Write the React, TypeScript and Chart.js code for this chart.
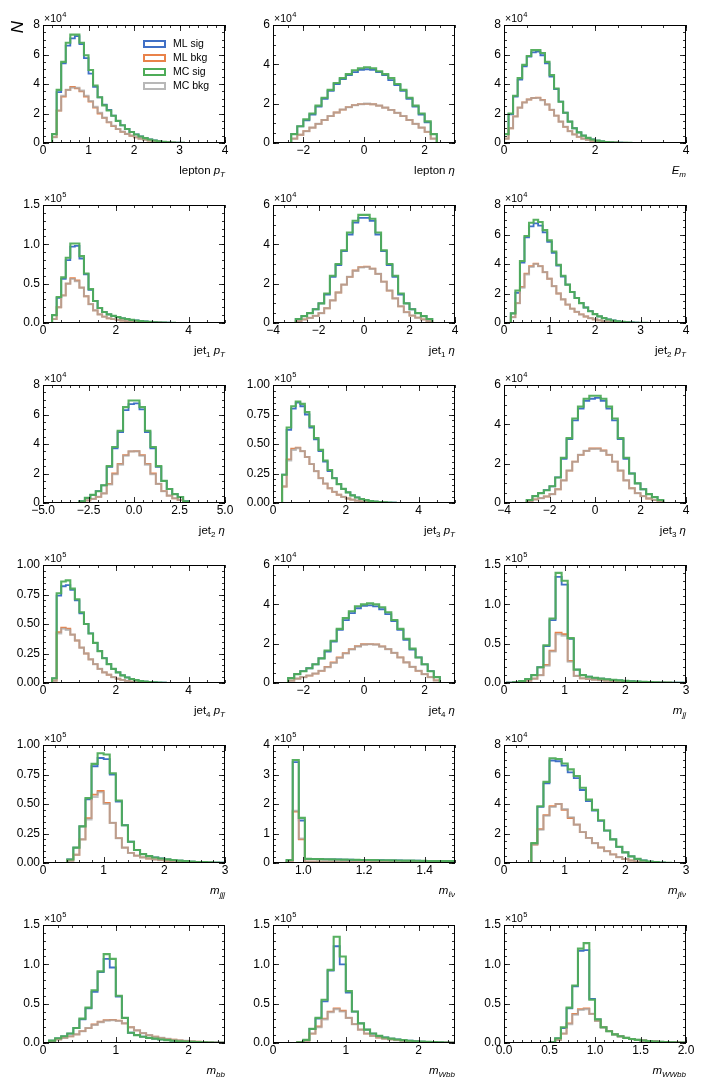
import { useEffect, useRef } from 'react'
import { Chart, registerables } from 'chart.js'

Chart.register(...registerables)

// series styling: ML sig, ML bkg, MC sig, MC bkg
const SERIES_NAMES = ['ML sig', 'ML bkg', 'MC sig', 'MC bkg']
const SERIES_COLORS = ['#4070c6', '#e9824a', 'rgba(78, 172, 88, 0.95)', 'rgba(168, 168, 168, 0.7)']
const LEGEND_COLORS = ['#4070c6', '#e9824a', '#4eac58', '#b8b8b8']
const SERIES_WIDTHS = [1.8, 1.8, 2.1, 2.1]
const SERIES_ORDER = [3, 2, 0, 1]

// ---- histogram contents (in units of the panel's 10^n exponent) ----

// lepton pT, bins of 0.1 from 0.2
const lepPtMlSig = [0.6, 3.45, 5.4, 6.6, 7.1, 7.25, 6.7, 5.75, 4.7, 3.8, 3.1, 2.6, 2.25, 1.85, 1.5, 1.2, 0.95, 0.75, 0.58, 0.44, 0.33, 0.24, 0.17, 0.12, 0.08, 0.05, 0.03, 0.02, 0.01]
const lepPtMlBkg = [0.4, 2.2, 3.15, 3.6, 3.8, 3.7, 3.5, 3.15, 2.8, 2.4, 2.0, 1.7, 1.4, 1.15, 0.94, 0.76, 0.61, 0.49, 0.38, 0.3, 0.23, 0.17, 0.12, 0.09, 0.06, 0.04, 0.025, 0.015, 0.008]
const lepPtMcSig = [0.6, 3.6, 5.5, 6.8, 7.35, 7.35, 6.8, 5.95, 4.95, 3.9, 3.1, 2.55, 2.2, 1.85, 1.5, 1.2, 0.95, 0.75, 0.58, 0.44, 0.33, 0.24, 0.17, 0.12, 0.08, 0.05, 0.03, 0.02, 0.01]
const lepPtMcBkg = [0.4, 2.2, 3.2, 3.6, 3.75, 3.75, 3.55, 3.2, 2.85, 2.45, 2.05, 1.72, 1.42, 1.17, 0.95, 0.77, 0.62, 0.5, 0.39, 0.3, 0.23, 0.17, 0.12, 0.09, 0.06, 0.04, 0.025, 0.015, 0.008]

// lepton eta, bins of 0.2 from -2.4
const lepEtaMlSig = [0.45, 0.85, 1.15, 1.45, 1.85, 2.25, 2.65, 3.0, 3.25, 3.45, 3.6, 3.72, 3.75, 3.72, 3.6, 3.45, 3.2, 2.95, 2.65, 2.25, 1.85, 1.45, 1.05, 0.45]
const lepEtaMlBkg = [0.22, 0.42, 0.6, 0.78, 0.97, 1.17, 1.37, 1.55, 1.7, 1.82, 1.93, 1.98, 1.99, 1.97, 1.9, 1.8, 1.68, 1.53, 1.37, 1.17, 0.97, 0.78, 0.57, 0.22]
const lepEtaMcSig = [0.45, 0.85, 1.2, 1.5, 1.9, 2.3, 2.7, 3.05, 3.3, 3.5, 3.7, 3.8, 3.85, 3.8, 3.65, 3.5, 3.3, 3.0, 2.7, 2.3, 1.9, 1.5, 1.1, 0.45]
const lepEtaMcBkg = [0.22, 0.42, 0.6, 0.78, 0.97, 1.17, 1.37, 1.55, 1.7, 1.82, 1.92, 1.97, 2.0, 1.97, 1.9, 1.8, 1.68, 1.53, 1.37, 1.17, 0.97, 0.78, 0.57, 0.22]

// E_m, bins of 0.1 from 0
const emMlSig = [0.6, 1.95, 3.15, 4.3, 5.2, 5.85, 6.15, 6.2, 5.95, 5.4, 4.5, 3.65, 2.8, 2.05, 1.45, 1.0, 0.72, 0.5, 0.35, 0.24, 0.16, 0.11, 0.07, 0.045, 0.03, 0.018, 0.01, 0.006]
const emMlBkg = [0.3, 1.0, 1.8, 2.4, 2.75, 2.95, 3.05, 3.08, 2.92, 2.62, 2.25, 1.85, 1.45, 1.1, 0.8, 0.58, 0.42, 0.3, 0.21, 0.15, 0.1, 0.07, 0.045, 0.03, 0.02, 0.012, 0.007, 0.004]
const emMcSig = [0.6, 2.0, 3.2, 4.4, 5.3, 5.9, 6.3, 6.3, 6.1, 5.5, 4.6, 3.7, 2.8, 2.05, 1.45, 1.0, 0.72, 0.5, 0.35, 0.24, 0.16, 0.11, 0.07, 0.045, 0.03, 0.018, 0.01, 0.006]
const emMcBkg = [0.3, 1.0, 1.8, 2.4, 2.75, 2.95, 3.05, 3.05, 2.9, 2.6, 2.25, 1.85, 1.45, 1.1, 0.8, 0.58, 0.42, 0.3, 0.21, 0.15, 0.1, 0.07, 0.045, 0.03, 0.02, 0.012, 0.007, 0.004]

// jet1 pT, bins of 0.125 from 0.25
const j1PtMlSig = [0.1, 0.32, 0.56, 0.8, 0.97, 0.98, 0.82, 0.62, 0.42, 0.28, 0.19, 0.14, 0.11, 0.09, 0.075, 0.06, 0.05, 0.04, 0.032, 0.025, 0.019, 0.014, 0.01, 0.007, 0.005, 0.003, 0.002]
const j1PtMlBkg = [0.05, 0.2, 0.35, 0.5, 0.57, 0.54, 0.45, 0.34, 0.24, 0.16, 0.11, 0.08, 0.06, 0.05, 0.04, 0.032, 0.025, 0.02, 0.015, 0.011, 0.008, 0.006, 0.004, 0.003, 0.002]
const j1PtMcSig = [0.1, 0.33, 0.58, 0.83, 1.01, 1.01, 0.85, 0.63, 0.43, 0.28, 0.19, 0.14, 0.11, 0.09, 0.075, 0.06, 0.05, 0.04, 0.032, 0.025, 0.019, 0.014, 0.01, 0.007, 0.005, 0.003, 0.002]
const j1PtMcBkg = [0.05, 0.2, 0.35, 0.5, 0.56, 0.53, 0.45, 0.34, 0.24, 0.16, 0.11, 0.08, 0.06, 0.05, 0.04, 0.032, 0.025, 0.02, 0.015, 0.011, 0.008, 0.006, 0.004, 0.003, 0.002]

// jet1 eta, bins of 0.25 from -3
const j1EtaMlSig = [0.2, 0.35, 0.5, 0.7, 1.0, 1.45, 2.35, 2.95, 3.65, 4.5, 5.1, 5.35, 5.35, 5.2, 4.5, 3.65, 2.95, 2.35, 1.45, 1.0, 0.7, 0.5, 0.35, 0.2]
const j1EtaMlBkg = [0.1, 0.18, 0.26, 0.36, 0.5, 0.75, 1.15, 1.55, 1.95, 2.35, 2.67, 2.84, 2.87, 2.76, 2.5, 2.1, 1.65, 1.25, 0.85, 0.55, 0.38, 0.27, 0.18, 0.1]
const j1EtaMcSig = [0.2, 0.35, 0.5, 0.7, 1.0, 1.5, 2.4, 3.0, 3.7, 4.6, 5.2, 5.5, 5.5, 5.3, 4.6, 3.7, 3.0, 2.4, 1.5, 1.0, 0.7, 0.5, 0.35, 0.2]
const j1EtaMcBkg = [0.1, 0.18, 0.26, 0.36, 0.5, 0.75, 1.15, 1.55, 1.95, 2.35, 2.65, 2.82, 2.85, 2.75, 2.5, 2.1, 1.65, 1.25, 0.85, 0.55, 0.38, 0.27, 0.18, 0.1]

// jet2 pT, bins of 0.1 from 0.15
const j2PtMlSig = [0.65, 2.05, 4.1, 5.8, 6.55, 6.75, 6.6, 6.15, 5.5, 4.75, 3.9, 3.15, 2.6, 2.1, 1.7, 1.35, 1.05, 0.8, 0.6, 0.45, 0.33, 0.24, 0.17, 0.12, 0.08, 0.05, 0.035, 0.02, 0.012, 0.006]
const j2PtMlBkg = [0.4, 1.35, 2.45, 3.35, 3.85, 4.02, 3.85, 3.45, 3.0, 2.5, 2.0, 1.6, 1.25, 0.97, 0.76, 0.58, 0.44, 0.33, 0.25, 0.18, 0.13, 0.09, 0.065, 0.045, 0.03, 0.02, 0.013, 0.008, 0.005]
const j2PtMcSig = [0.65, 2.2, 4.2, 5.9, 6.8, 7.0, 6.85, 6.3, 5.6, 4.85, 3.95, 3.2, 2.6, 2.1, 1.7, 1.35, 1.05, 0.8, 0.6, 0.45, 0.33, 0.24, 0.17, 0.12, 0.08, 0.05, 0.035, 0.02, 0.012, 0.006]
const j2PtMcBkg = [0.4, 1.35, 2.4, 3.3, 3.8, 4.0, 3.85, 3.45, 3.0, 2.5, 2.0, 1.6, 1.25, 0.97, 0.76, 0.58, 0.44, 0.33, 0.25, 0.18, 0.13, 0.09, 0.065, 0.045, 0.03, 0.02, 0.013, 0.008, 0.005]

// jet2 eta, bins of 0.3 from -3
const j2EtaMlSig = [0.12, 0.35, 0.55, 0.8, 1.2, 2.45, 3.7, 4.8, 6.3, 6.7, 6.75, 6.35, 4.8, 3.7, 2.45, 1.5, 0.95, 0.6, 0.4, 0.12]
const j2EtaMlBkg = [0.06, 0.18, 0.28, 0.42, 0.65, 1.3, 2.0, 2.65, 3.25, 3.5, 3.52, 3.25, 2.65, 2.0, 1.3, 0.8, 0.5, 0.32, 0.2, 0.06]
const j2EtaMcSig = [0.12, 0.35, 0.55, 0.8, 1.2, 2.5, 3.8, 4.9, 6.5, 6.95, 6.95, 6.5, 4.9, 3.8, 2.5, 1.5, 0.95, 0.6, 0.4, 0.12]
const j2EtaMcBkg = [0.06, 0.18, 0.28, 0.42, 0.65, 1.25, 1.95, 2.6, 3.2, 3.5, 3.5, 3.2, 2.6, 1.95, 1.3, 0.8, 0.5, 0.32, 0.2, 0.06]

// jet3 pT, bins of 0.125 from 0.25
const j3PtMlSig = [0.24, 0.62, 0.8, 0.85, 0.82, 0.75, 0.64, 0.54, 0.44, 0.35, 0.27, 0.21, 0.16, 0.12, 0.09, 0.065, 0.047, 0.034, 0.024, 0.017, 0.012, 0.008, 0.005, 0.003, 0.002]
const j3PtMlBkg = [0.14, 0.37, 0.46, 0.47, 0.44, 0.39, 0.33, 0.27, 0.21, 0.165, 0.125, 0.095, 0.07, 0.052, 0.038, 0.028, 0.02, 0.014, 0.01, 0.007, 0.005, 0.003, 0.002]
const j3PtMcSig = [0.24, 0.64, 0.82, 0.86, 0.84, 0.77, 0.65, 0.55, 0.45, 0.36, 0.28, 0.21, 0.16, 0.12, 0.09, 0.065, 0.047, 0.034, 0.024, 0.017, 0.012, 0.008, 0.005, 0.003, 0.002]
const j3PtMcBkg = [0.14, 0.36, 0.45, 0.465, 0.44, 0.39, 0.33, 0.27, 0.21, 0.165, 0.125, 0.095, 0.07, 0.052, 0.038, 0.028, 0.02, 0.014, 0.01, 0.007, 0.005, 0.003, 0.002]

// jet3 eta, bins of 0.25 from -3
const j3EtaMlSig = [0.15, 0.35, 0.5, 0.65, 0.85, 1.3, 2.25, 3.25, 4.2, 4.8, 5.2, 5.3, 5.35, 5.2, 4.8, 4.2, 3.25, 2.25, 1.5, 1.0, 0.7, 0.45, 0.3, 0.15]
const j3EtaMlBkg = [0.08, 0.18, 0.25, 0.33, 0.45, 0.7, 1.15, 1.65, 2.1, 2.45, 2.65, 2.77, 2.78, 2.67, 2.45, 2.1, 1.65, 1.15, 0.75, 0.5, 0.35, 0.23, 0.15, 0.08]
const j3EtaMcSig = [0.15, 0.35, 0.5, 0.65, 0.85, 1.3, 2.3, 3.3, 4.3, 4.9, 5.3, 5.45, 5.45, 5.3, 4.9, 4.3, 3.3, 2.3, 1.5, 1.0, 0.7, 0.45, 0.3, 0.15]
const j3EtaMcBkg = [0.08, 0.18, 0.25, 0.33, 0.45, 0.7, 1.15, 1.65, 2.1, 2.45, 2.65, 2.75, 2.75, 2.65, 2.45, 2.1, 1.65, 1.15, 0.75, 0.5, 0.35, 0.23, 0.15, 0.08]

// jet4 pT, bins of 0.125 from 0.25
const j4PtMlSig = [0.04, 0.74, 0.82, 0.83, 0.79, 0.7, 0.59, 0.5, 0.42, 0.34, 0.27, 0.21, 0.16, 0.12, 0.09, 0.065, 0.047, 0.034, 0.024, 0.017, 0.012, 0.008, 0.005, 0.003, 0.002]
const j4PtMlBkg = [0.02, 0.43, 0.47, 0.46, 0.41, 0.36, 0.3, 0.25, 0.2, 0.16, 0.12, 0.09, 0.07, 0.05, 0.036, 0.026, 0.018, 0.012, 0.008, 0.005, 0.003, 0.002]
const j4PtMcSig = [0.04, 0.76, 0.86, 0.87, 0.8, 0.71, 0.6, 0.5, 0.42, 0.34, 0.27, 0.21, 0.16, 0.12, 0.09, 0.065, 0.047, 0.034, 0.024, 0.017, 0.012, 0.008, 0.005, 0.003, 0.002]
const j4PtMcBkg = [0.02, 0.42, 0.46, 0.45, 0.41, 0.36, 0.3, 0.25, 0.2, 0.16, 0.12, 0.09, 0.07, 0.05, 0.036, 0.026, 0.018, 0.012, 0.008, 0.005, 0.003, 0.002]

// jet4 eta, bins of 0.2 from -2.5
const j4EtaMlSig = [0.25, 0.45, 0.6, 0.75, 0.95, 1.25, 1.6, 2.1, 2.7, 3.2, 3.55, 3.8, 3.92, 3.95, 3.9, 3.75, 3.5, 3.15, 2.7, 2.2, 1.7, 1.3, 0.95, 0.6, 0.3]
const j4EtaMlBkg = [0.12, 0.22, 0.3, 0.38, 0.48, 0.62, 0.82, 1.05, 1.3, 1.52, 1.72, 1.87, 1.97, 1.98, 1.96, 1.86, 1.72, 1.53, 1.3, 1.05, 0.82, 0.62, 0.45, 0.3, 0.13]
const j4EtaMcSig = [0.25, 0.45, 0.6, 0.75, 0.95, 1.25, 1.65, 2.15, 2.75, 3.3, 3.65, 3.9, 4.0, 4.05, 4.0, 3.85, 3.6, 3.2, 2.75, 2.25, 1.75, 1.3, 0.95, 0.6, 0.3]
const j4EtaMcBkg = [0.12, 0.22, 0.3, 0.38, 0.48, 0.62, 0.8, 1.02, 1.27, 1.5, 1.7, 1.85, 1.95, 1.97, 1.95, 1.85, 1.72, 1.53, 1.3, 1.05, 0.82, 0.62, 0.45, 0.3, 0.13]

// m_jj, bins of 0.1 from 0.05
const mjjMlSig = [0.003, 0.01, 0.025, 0.05, 0.1, 0.2, 0.47, 0.8, 1.35, 1.25, 0.56, 0.17, 0.1, 0.08, 0.066, 0.056, 0.047, 0.04, 0.033, 0.027, 0.022, 0.018, 0.014, 0.011, 0.009, 0.007, 0.005, 0.004, 0.003, 0.002]
const mjjMlBkg = [0.002, 0.006, 0.015, 0.03, 0.055, 0.1, 0.23, 0.41, 0.64, 0.62, 0.28, 0.09, 0.06, 0.05, 0.042, 0.036, 0.03, 0.025, 0.021, 0.017, 0.014, 0.011, 0.009, 0.007, 0.005, 0.004, 0.003, 0.002]
const mjjMcSig = [0.003, 0.01, 0.025, 0.05, 0.1, 0.2, 0.48, 0.82, 1.4, 1.3, 0.57, 0.17, 0.1, 0.08, 0.066, 0.056, 0.047, 0.04, 0.033, 0.027, 0.022, 0.018, 0.014, 0.011, 0.009, 0.007, 0.005, 0.004, 0.003, 0.002]
const mjjMcBkg = [0.002, 0.006, 0.015, 0.03, 0.055, 0.1, 0.22, 0.4, 0.62, 0.6, 0.27, 0.09, 0.06, 0.05, 0.042, 0.036, 0.03, 0.025, 0.021, 0.017, 0.014, 0.011, 0.009, 0.007, 0.005, 0.004, 0.003, 0.002]

// m_jjj, bins of 0.1 from 0.4
const mjjjMlSig = [0.03, 0.13, 0.31, 0.54, 0.82, 0.89, 0.88, 0.75, 0.52, 0.32, 0.18, 0.11, 0.075, 0.058, 0.047, 0.038, 0.031, 0.025, 0.02, 0.016, 0.012, 0.009, 0.007, 0.005, 0.003, 0.002]
const mjjjMlBkg = [0.02, 0.07, 0.2, 0.38, 0.58, 0.61, 0.51, 0.34, 0.21, 0.13, 0.085, 0.062, 0.048, 0.038, 0.03, 0.024, 0.019, 0.015, 0.012, 0.009, 0.007, 0.005, 0.003, 0.002]
const mjjjMcSig = [0.03, 0.13, 0.31, 0.55, 0.84, 0.93, 0.92, 0.76, 0.53, 0.32, 0.18, 0.11, 0.075, 0.058, 0.047, 0.038, 0.031, 0.025, 0.02, 0.016, 0.012, 0.009, 0.007, 0.005, 0.003, 0.002]
const mjjjMcBkg = [0.02, 0.07, 0.2, 0.37, 0.56, 0.6, 0.5, 0.34, 0.21, 0.13, 0.085, 0.062, 0.048, 0.038, 0.03, 0.024, 0.019, 0.015, 0.012, 0.009, 0.007, 0.005, 0.003, 0.002]

// m_lv, bins of 0.02 from 0.945
const mlvMlSig = [0.1, 3.42, 1.44, 0.14, 0.135, 0.13, 0.126, 0.122, 0.118, 0.114, 0.11, 0.106, 0.103, 0.1, 0.097, 0.094, 0.091, 0.088, 0.085, 0.082, 0.079, 0.076, 0.073, 0.07, 0.068, 0.066, 0.064, 0.062]
const mlvMlBkg = [0.05, 1.74, 0.8, 0.05, 0.049, 0.047, 0.046, 0.044, 0.043, 0.042, 0.04, 0.039, 0.038, 0.037, 0.036, 0.035, 0.034, 0.033, 0.032, 0.031, 0.03, 0.029, 0.028, 0.027, 0.026, 0.025, 0.024, 0.023]
const mlvMcSig = [0.1, 3.49, 1.53, 0.14, 0.135, 0.13, 0.126, 0.122, 0.118, 0.114, 0.11, 0.106, 0.103, 0.1, 0.097, 0.094, 0.091, 0.088, 0.085, 0.082, 0.079, 0.076, 0.073, 0.07, 0.068, 0.066, 0.064, 0.062]
const mlvMcBkg = [0.05, 1.77, 0.83, 0.05, 0.049, 0.047, 0.046, 0.044, 0.043, 0.042, 0.04, 0.039, 0.038, 0.037, 0.036, 0.035, 0.034, 0.033, 0.032, 0.031, 0.03, 0.029, 0.028, 0.027, 0.026, 0.025, 0.024, 0.023]

// m_jlv, bins of 0.1 from 0.45
const mjlvMlSig = [1.3, 3.8, 5.4, 6.95, 6.9, 6.6, 6.15, 5.75, 4.95, 4.2, 3.55, 2.85, 2.2, 1.6, 1.1, 0.72, 0.45, 0.28, 0.17, 0.1, 0.06, 0.03, 0.015]
const mjlvMlBkg = [1.25, 2.3, 3.25, 3.85, 4.0, 3.6, 3.05, 2.6, 2.1, 1.7, 1.35, 1.05, 0.8, 0.58, 0.4, 0.27, 0.17, 0.1, 0.06, 0.035, 0.02, 0.01, 0.005]
const mjlvMcSig = [1.35, 3.85, 5.5, 7.1, 7.05, 6.75, 6.35, 5.9, 5.1, 4.3, 3.6, 2.9, 2.2, 1.6, 1.1, 0.72, 0.45, 0.28, 0.17, 0.1, 0.06, 0.03, 0.015]
const mjlvMcBkg = [1.25, 2.25, 3.2, 3.8, 4.0, 3.65, 3.1, 2.6, 2.1, 1.7, 1.35, 1.05, 0.8, 0.58, 0.4, 0.27, 0.17, 0.1, 0.06, 0.035, 0.02, 0.01, 0.005]

// m_bb, bins of 1/12 from 1/12
const mbbMlSig = [0.03, 0.06, 0.085, 0.12, 0.19, 0.3, 0.44, 0.65, 0.9, 1.07, 0.96, 0.59, 0.32, 0.13, 0.1, 0.08, 0.065, 0.055, 0.045, 0.036, 0.029, 0.023, 0.018, 0.014, 0.011, 0.008, 0.006, 0.004, 0.003]
const mbbMlBkg = [0.02, 0.045, 0.065, 0.085, 0.11, 0.15, 0.19, 0.235, 0.27, 0.29, 0.295, 0.285, 0.25, 0.2, 0.16, 0.125, 0.1, 0.08, 0.065, 0.052, 0.042, 0.034, 0.027, 0.021, 0.016, 0.012, 0.009, 0.006, 0.004]
const mbbMcSig = [0.03, 0.06, 0.085, 0.12, 0.19, 0.31, 0.45, 0.67, 0.91, 1.13, 1.07, 0.6, 0.32, 0.13, 0.1, 0.08, 0.065, 0.055, 0.045, 0.036, 0.029, 0.023, 0.018, 0.014, 0.011, 0.008, 0.006, 0.004, 0.003]
const mbbMcBkg = [0.02, 0.045, 0.065, 0.085, 0.11, 0.15, 0.19, 0.23, 0.265, 0.285, 0.29, 0.28, 0.25, 0.2, 0.16, 0.125, 0.1, 0.08, 0.065, 0.052, 0.042, 0.034, 0.027, 0.021, 0.016, 0.012, 0.009, 0.006, 0.004]

// m_Wbb, bins of 1/12 from 1/3
const mwbbMlSig = [0.01, 0.04, 0.18, 0.31, 0.53, 0.92, 1.23, 1.0, 0.64, 0.4, 0.25, 0.17, 0.12, 0.09, 0.07, 0.055, 0.045, 0.036, 0.029, 0.023, 0.018, 0.014, 0.011, 0.008, 0.006, 0.004]
const mwbbMlBkg = [0.01, 0.03, 0.12, 0.21, 0.31, 0.4, 0.44, 0.41, 0.32, 0.24, 0.17, 0.12, 0.09, 0.07, 0.055, 0.045, 0.036, 0.029, 0.023, 0.018, 0.014, 0.011, 0.008, 0.006, 0.004, 0.003]
const mwbbMcSig = [0.01, 0.04, 0.18, 0.32, 0.55, 0.93, 1.35, 1.1, 0.66, 0.4, 0.25, 0.17, 0.12, 0.09, 0.07, 0.055, 0.045, 0.036, 0.029, 0.023, 0.018, 0.014, 0.011, 0.008, 0.006, 0.004]
const mwbbMcBkg = [0.01, 0.03, 0.12, 0.2, 0.3, 0.39, 0.43, 0.4, 0.32, 0.24, 0.17, 0.12, 0.09, 0.07, 0.055, 0.045, 0.036, 0.029, 0.023, 0.018, 0.014, 0.011, 0.008, 0.006, 0.004, 0.003]

// m_WWbb, bins of 0.0625 from 0.5
const mwwbbMlSig = [0.01, 0.06, 0.19, 0.44, 0.72, 1.17, 1.18, 0.56, 0.3, 0.2, 0.15, 0.11, 0.085, 0.065, 0.05, 0.04, 0.032, 0.025, 0.02, 0.015, 0.012, 0.009, 0.007, 0.005]
const mwwbbMlBkg = [0.005, 0.04, 0.12, 0.25, 0.37, 0.43, 0.44, 0.37, 0.28, 0.2, 0.15, 0.11, 0.085, 0.065, 0.05, 0.04, 0.032, 0.025, 0.02, 0.015, 0.012, 0.009, 0.007, 0.005]
const mwwbbMcSig = [0.01, 0.06, 0.2, 0.45, 0.73, 1.2, 1.27, 0.55, 0.3, 0.2, 0.15, 0.11, 0.085, 0.065, 0.05, 0.04, 0.032, 0.025, 0.02, 0.015, 0.012, 0.009, 0.007, 0.005]
const mwwbbMcBkg = [0.005, 0.04, 0.12, 0.24, 0.36, 0.42, 0.43, 0.37, 0.28, 0.2, 0.15, 0.11, 0.085, 0.065, 0.05, 0.04, 0.032, 0.025, 0.02, 0.015, 0.012, 0.009, 0.007, 0.005]

// ---- axis ticks ----
const yTicks8 = [0, 2, 4, 6, 8]
const yLabels8 = ['0', '2', '4', '6', '8']
const yTicks6 = [0, 2, 4, 6]
const yLabels6 = ['0', '2', '4', '6']
const yTicks15 = [0, 0.5, 1, 1.5]
const yLabels15 = ['0.0', '0.5', '1.0', '1.5']
const yTicks1 = [0, 0.25, 0.5, 0.75, 1]
const yLabels1 = ['0.00', '0.25', '0.50', '0.75', '1.00']
const yTicks4 = [0, 1, 2, 3, 4]
const yLabels4 = ['0', '1', '2', '3', '4']

const xTicks0to4 = [0, 1, 2, 3, 4]
const xLabels0to4 = ['0', '1', '2', '3', '4']
const xTicksEven = [0, 2, 4]
const xLabelsEven = ['0', '2', '4']
const xTicksEta3 = [-2, 0, 2]
const xLabelsEta3 = ['−2', '0', '2']
const xTicksEta4 = [-4, -2, 0, 2, 4]
const xLabelsEta4 = ['−4', '−2', '0', '2', '4']
const xTicksEta5 = [-5, -2.5, 0, 2.5, 5]
const xLabelsEta5 = ['−5.0', '−2.5', '0.0', '2.5', '5.0']
const xTicks0to3 = [0, 1, 2, 3]
const xLabels0to3 = ['0', '1', '2', '3']
const xTicksMlv = [1.0, 1.2, 1.4]
const xLabelsMlv = ['1.0', '1.2', '1.4']
const xTicks0to2 = [0, 1, 2]
const xLabels0to2 = ['0', '1', '2']
const xTicksHalf = [0, 0.5, 1, 1.5, 2]
const xLabelsHalf = ['0.0', '0.5', '1.0', '1.5', '2.0']

interface Seg {
  t: string
  it?: boolean
  sub?: boolean
}

interface Panel {
  lo: number
  w: number
  series: number[][]
  xMin: number
  xMax: number
  xTicks: number[]
  xLabels: string[]
  xMinor: number
  yMax: number
  yTicks: number[]
  yLabels: string[]
  yMinor: number
  exp: string
  title: Seg[]
}

const pT: Seg[] = [{ t: ' ' }, { t: 'p', it: true }, { t: 'T', it: true, sub: true }]
const eta: Seg[] = [{ t: ' ' }, { t: 'η', it: true }]
const jet = (n: string, rest: Seg[]): Seg[] => [{ t: 'jet' }, { t: n, sub: true }, ...rest]
const mass = (s: string): Seg[] => [{ t: 'm', it: true }, { t: s, it: true, sub: true }]

const panels: Panel[] = [
  { lo: 0.2, w: 0.1, series: [lepPtMlSig, lepPtMlBkg, lepPtMcSig, lepPtMcBkg], xMin: 0, xMax: 4, xTicks: xTicks0to4, xLabels: xLabels0to4, xMinor: 0.2, yMax: 8, yTicks: yTicks8, yLabels: yLabels8, yMinor: 0.5, exp: '4', title: [{ t: 'lepton' }, ...pT] },
  { lo: -2.4, w: 0.2, series: [lepEtaMlSig, lepEtaMlBkg, lepEtaMcSig, lepEtaMcBkg], xMin: -3, xMax: 3, xTicks: xTicksEta3, xLabels: xLabelsEta3, xMinor: 0.5, yMax: 6, yTicks: yTicks6, yLabels: yLabels6, yMinor: 0.5, exp: '4', title: [{ t: 'lepton' }, ...eta] },
  { lo: 0, w: 0.1, series: [emMlSig, emMlBkg, emMcSig, emMcBkg], xMin: 0, xMax: 4, xTicks: xTicksEven, xLabels: xLabelsEven, xMinor: 0.5, yMax: 8, yTicks: yTicks8, yLabels: yLabels8, yMinor: 0.5, exp: '4', title: [{ t: 'E', it: true }, { t: 'm', it: true, sub: true }] },
  { lo: 0.25, w: 0.125, series: [j1PtMlSig, j1PtMlBkg, j1PtMcSig, j1PtMcBkg], xMin: 0, xMax: 5, xTicks: xTicksEven, xLabels: xLabelsEven, xMinor: 0.5, yMax: 1.5, yTicks: yTicks15, yLabels: yLabels15, yMinor: 0.1, exp: '5', title: jet('1', pT) },
  { lo: -3, w: 0.25, series: [j1EtaMlSig, j1EtaMlBkg, j1EtaMcSig, j1EtaMcBkg], xMin: -4, xMax: 4, xTicks: xTicksEta4, xLabels: xLabelsEta4, xMinor: 0.5, yMax: 6, yTicks: yTicks6, yLabels: yLabels6, yMinor: 0.5, exp: '4', title: jet('1', eta) },
  { lo: 0.15, w: 0.1, series: [j2PtMlSig, j2PtMlBkg, j2PtMcSig, j2PtMcBkg], xMin: 0, xMax: 4, xTicks: xTicks0to4, xLabels: xLabels0to4, xMinor: 0.2, yMax: 8, yTicks: yTicks8, yLabels: yLabels8, yMinor: 0.5, exp: '4', title: jet('2', pT) },
  { lo: -3, w: 0.3, series: [j2EtaMlSig, j2EtaMlBkg, j2EtaMcSig, j2EtaMcBkg], xMin: -5, xMax: 5, xTicks: xTicksEta5, xLabels: xLabelsEta5, xMinor: 0.5, yMax: 8, yTicks: yTicks8, yLabels: yLabels8, yMinor: 0.5, exp: '4', title: jet('2', eta) },
  { lo: 0.25, w: 0.125, series: [j3PtMlSig, j3PtMlBkg, j3PtMcSig, j3PtMcBkg], xMin: 0, xMax: 5, xTicks: xTicksEven, xLabels: xLabelsEven, xMinor: 0.5, yMax: 1, yTicks: yTicks1, yLabels: yLabels1, yMinor: 0.05, exp: '5', title: jet('3', pT) },
  { lo: -3, w: 0.25, series: [j3EtaMlSig, j3EtaMlBkg, j3EtaMcSig, j3EtaMcBkg], xMin: -4, xMax: 4, xTicks: xTicksEta4, xLabels: xLabelsEta4, xMinor: 0.5, yMax: 6, yTicks: yTicks6, yLabels: yLabels6, yMinor: 0.5, exp: '4', title: jet('3', eta) },
  { lo: 0.25, w: 0.125, series: [j4PtMlSig, j4PtMlBkg, j4PtMcSig, j4PtMcBkg], xMin: 0, xMax: 5, xTicks: xTicksEven, xLabels: xLabelsEven, xMinor: 0.5, yMax: 1, yTicks: yTicks1, yLabels: yLabels1, yMinor: 0.05, exp: '5', title: jet('4', pT) },
  { lo: -2.5, w: 0.2, series: [j4EtaMlSig, j4EtaMlBkg, j4EtaMcSig, j4EtaMcBkg], xMin: -3, xMax: 3, xTicks: xTicksEta3, xLabels: xLabelsEta3, xMinor: 0.5, yMax: 6, yTicks: yTicks6, yLabels: yLabels6, yMinor: 0.5, exp: '4', title: jet('4', eta) },
  { lo: 0.05, w: 0.1, series: [mjjMlSig, mjjMlBkg, mjjMcSig, mjjMcBkg], xMin: 0, xMax: 3, xTicks: xTicks0to3, xLabels: xLabels0to3, xMinor: 0.2, yMax: 1.5, yTicks: yTicks15, yLabels: yLabels15, yMinor: 0.1, exp: '5', title: mass('jj') },
  { lo: 0.4, w: 0.1, series: [mjjjMlSig, mjjjMlBkg, mjjjMcSig, mjjjMcBkg], xMin: 0, xMax: 3, xTicks: xTicks0to3, xLabels: xLabels0to3, xMinor: 0.2, yMax: 1, yTicks: yTicks1, yLabels: yLabels1, yMinor: 0.05, exp: '5', title: mass('jjj') },
  { lo: 0.945, w: 0.02, series: [mlvMlSig, mlvMlBkg, mlvMcSig, mlvMcBkg], xMin: 0.9, xMax: 1.5, xTicks: xTicksMlv, xLabels: xLabelsMlv, xMinor: 0.05, yMax: 4, yTicks: yTicks4, yLabels: yLabels4, yMinor: 0.2, exp: '5', title: mass('ℓν') },
  { lo: 0.45, w: 0.1, series: [mjlvMlSig, mjlvMlBkg, mjlvMcSig, mjlvMcBkg], xMin: 0, xMax: 3, xTicks: xTicks0to3, xLabels: xLabels0to3, xMinor: 0.2, yMax: 8, yTicks: yTicks8, yLabels: yLabels8, yMinor: 0.5, exp: '4', title: mass('jℓν') },
  { lo: 1 / 12, w: 1 / 12, series: [mbbMlSig, mbbMlBkg, mbbMcSig, mbbMcBkg], xMin: 0, xMax: 2.5, xTicks: xTicks0to2, xLabels: xLabels0to2, xMinor: 0.2, yMax: 1.5, yTicks: yTicks15, yLabels: yLabels15, yMinor: 0.1, exp: '5', title: mass('bb') },
  { lo: 1 / 3, w: 1 / 12, series: [mwbbMlSig, mwbbMlBkg, mwbbMcSig, mwbbMcBkg], xMin: 0, xMax: 2.5, xTicks: xTicks0to2, xLabels: xLabels0to2, xMinor: 0.2, yMax: 1.5, yTicks: yTicks15, yLabels: yLabels15, yMinor: 0.1, exp: '5', title: mass('Wbb') },
  { lo: 0.5, w: 0.0625, series: [mwwbbMlSig, mwwbbMlBkg, mwwbbMcSig, mwwbbMcBkg], xMin: 0, xMax: 2, xTicks: xTicksHalf, xLabels: xLabelsHalf, xMinor: 0.1, yMax: 1.5, yTicks: yTicks15, yLabels: yLabels15, yMinor: 0.1, exp: '5', title: mass('WWbb') },
]

const FONT = '"Liberation Sans", Arial, Helvetica, sans-serif'
const CANVAS_W = 242
const CANVAS_H = 180
const PAD = { left: 43, top: 25, right: 17, bottom: 37 }
const COL_LEFT = [0, 230, 461]

// step outline: rise at the first edge, hold each bin, fall after the last edge
function histPoints(lo: number, w: number, vals: number[]) {
  const pts = [{ x: lo, y: 0 }]
  vals.forEach((v, i) => pts.push({ x: lo + i * w, y: v }))
  pts.push({ x: lo + vals.length * w, y: 0 })
  return pts
}

function minorValues(min: number, max: number, step: number) {
  const out: number[] = []
  const k0 = Math.ceil(min / step - 1e-6)
  const k1 = Math.floor(max / step + 1e-6)
  for (let k = k0; k <= k1; k++) out.push(k * step)
  return out
}

function HistPanel({ panel, left, top, first }: { panel: Panel; left: number; top: number; first: boolean }) {
  const canvasRef = useRef<HTMLCanvasElement>(null)

  useEffect(() => {
    if (!canvasRef.current) return

    const deco = {
      id: 'deco',
      afterDraw(chart: Chart) {
        const { ctx, chartArea: a } = chart
        const xs = chart.scales.x
        const ys = chart.scales.y
        ctx.save()

        // frame
        ctx.strokeStyle = '#000'
        ctx.lineWidth = 1
        ctx.strokeRect(a.left + 0.5, a.top + 0.5, a.right - a.left - 1, a.bottom - a.top - 1)

        // inward ticks on all four sides
        ctx.lineWidth = 0.8
        ctx.beginPath()
        const xTick = (v: number, len: number) => {
          const x = Math.round(xs.getPixelForValue(v)) + 0.5
          ctx.moveTo(x, a.bottom)
          ctx.lineTo(x, a.bottom - len)
          ctx.moveTo(x, a.top)
          ctx.lineTo(x, a.top + len)
        }
        const yTick = (v: number, len: number) => {
          const y = Math.round(ys.getPixelForValue(v)) + 0.5
          ctx.moveTo(a.left, y)
          ctx.lineTo(a.left + len, y)
          ctx.moveTo(a.right, y)
          ctx.lineTo(a.right - len, y)
        }
        minorValues(panel.xMin, panel.xMax, panel.xMinor).forEach((v) => xTick(v, 3))
        minorValues(0, panel.yMax, panel.yMinor).forEach((v) => yTick(v, 3))
        panel.xTicks.forEach((v) => xTick(v, 6))
        panel.yTicks.forEach((v) => yTick(v, 6))
        ctx.stroke()

        // tick labels
        ctx.fillStyle = '#000'
        ctx.font = `12px ${FONT}`
        ctx.textAlign = 'center'
        ctx.textBaseline = 'top'
        panel.xTicks.forEach((v, i) => ctx.fillText(panel.xLabels[i], xs.getPixelForValue(v), a.bottom + 2))
        ctx.textAlign = 'right'
        ctx.textBaseline = 'middle'
        panel.yTicks.forEach((v, i) => ctx.fillText(panel.yLabels[i], a.left - 3, ys.getPixelForValue(v)))

        // offset text
        ctx.textAlign = 'left'
        ctx.textBaseline = 'alphabetic'
        ctx.font = `10.5px ${FONT}`
        ctx.fillText('×10', a.left + 1, a.top - 3)
        const ew = ctx.measureText('×10').width
        ctx.font = `7.5px ${FONT}`
        ctx.fillText(panel.exp, a.left + 1.5 + ew, a.top - 8)

        // x axis title, right aligned
        const segFont = (s: Seg) => `${s.it ? 'italic ' : ''}${s.sub ? 8 : 11.5}px ${FONT}`
        let total = 0
        panel.title.forEach((s) => {
          ctx.font = segFont(s)
          total += ctx.measureText(s.t).width
        })
        let tx = a.right - total
        const base = a.bottom + 31
        panel.title.forEach((s) => {
          ctx.font = segFont(s)
          ctx.fillText(s.t, tx, s.sub ? base + 3 : base)
          tx += ctx.measureText(s.t).width
        })

        if (first) {
          // y axis title
          ctx.save()
          ctx.translate(18, a.top + 2)
          ctx.rotate(-Math.PI / 2)
          ctx.font = `italic 17px ${FONT}`
          ctx.textAlign = 'center'
          ctx.textBaseline = 'middle'
          ctx.fillText('N', 0, 0)
          ctx.restore()

          // legend
          ctx.font = `10.5px ${FONT}`
          ctx.textBaseline = 'middle'
          ctx.lineWidth = 2
          SERIES_NAMES.forEach((name, i) => {
            const cy = a.top + 19 + 14 * i
            ctx.strokeStyle = LEGEND_COLORS[i]
            ctx.strokeRect(a.left + 101, cy - 3, 21, 6)
            ctx.fillText(name, a.left + 130, cy + 0.5)
          })
        }
        ctx.restore()
      },
    }

    const chart = new Chart(canvasRef.current, {
      type: 'line',
      data: {
        datasets: panel.series.map((vals, i) => ({
          label: SERIES_NAMES[i],
          data: histPoints(panel.lo, panel.w, vals),
          borderColor: SERIES_COLORS[i],
          borderWidth: SERIES_WIDTHS[i],
          stepped: 'before' as const,
          pointRadius: 0,
          fill: false,
          tension: 0,
          order: SERIES_ORDER[i],
          clip: 0,
        })),
      },
      options: {
        responsive: false,
        animation: false,
        events: [],
        layout: { padding: PAD },
        scales: {
          x: { type: 'linear', display: false, min: panel.xMin, max: panel.xMax },
          y: { type: 'linear', display: false, min: 0, max: panel.yMax },
        },
        plugins: {
          legend: { display: false },
          tooltip: { enabled: false },
        },
      },
      plugins: [deco],
    })

    return () => {
      chart.destroy()
    }
  }, [panel, first])

  return (
    <canvas
      ref={canvasRef}
      width={CANVAS_W}
      height={CANVAS_H}
      style={{ position: 'absolute', left, top, width: CANVAS_W, height: CANVAS_H }}
    />
  )
}

export default function App() {
  return (
    <div style={{ position: 'absolute', left: 0, top: 0, width: 706, height: 1086, background: '#fff' }}>
      {panels.map((p, i) => (
        <HistPanel key={i} panel={p} left={COL_LEFT[i % 3]} top={Math.floor(i / 3) * 180} first={i === 0} />
      ))}
    </div>
  )
}
